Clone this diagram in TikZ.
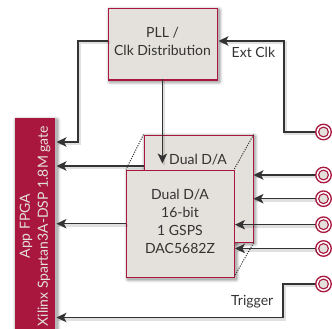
\documentclass[tikz,border=0pt]{standalone}
\usepackage{fontspec}
\setmainfont{Lato}
\usetikzlibrary{arrows.meta}
\definecolor{crim}{HTML}{A9173F}
\definecolor{boxfill}{HTML}{E4E0DB}
\definecolor{ink}{HTML}{333333}
\newcommand{\softshadow}[4]{%
  \foreach \g/\o in {3.6/0.05,2.7/0.07,1.8/0.09,0.9/0.11}{
    \fill[black,opacity=\o,rounded corners=\g pt] (#1+2-\g,#2+2-\g) rectangle (#3+2+\g,#4+2+\g);
  }}
\tikzset{
  blockbox/.style={draw=crim,line width=1.2pt,fill=boxfill,minimum width=#1,inner sep=0pt},
  fpgabox/.style={fill=crim,inner sep=0pt},
  sig/.style={ink,line width=1.05pt,-{Stealth[length=10pt,width=9.5pt,inset=2.6pt]},
     preaction={draw=black,opacity=0.12,line width=2.6pt,transform canvas={shift={(1.6pt,-1.8pt)}},arrows=-}},
  dots/.style={ink,line width=1pt,dash pattern=on 1.1pt off 1.3pt},
  conn/.style={circle,draw=crim,fill=white,line width=1.3pt,minimum size=15.5pt,inner sep=0pt,
     path picture={\draw[crim,fill=boxfill,line width=1.1pt] (path picture bounding box.center) circle (4.9pt);}},
  lab/.style={text=ink,inner sep=0pt,align=center,font=\fontsize{14}{18}\selectfont}
}
\begin{document}
\begin{tikzpicture}[x=1pt,y=-1pt]
\useasboundingbox (0,0) rectangle (332,329);
% shadows
\begin{scope}
\clip (0,0) rectangle (332,329);
\softshadow{14.5}{118}{55}{329}
\softshadow{108}{8}{217}{79.5}
\softshadow{143.5}{134.5}{252.5}{241.5}
\softshadow{126}{169.5}{234}{277}
\end{scope}
% fpga
\node[fpgabox,minimum width=40.5pt,minimum height=211pt,anchor=north west] (fpga) at (14.5,118) {};
\node[text=boxfill,rotate=90,align=center,font=\fontsize{14}{18}\selectfont,inner sep=0pt] (fpgat) at (35,226) {App FPGA\\Xilinx Spartan3A-DSP 1.8M gate};
% pll
\node[blockbox=109pt,minimum height=71.5pt,anchor=north west] (pll) at (108,8) {};
\node[lab] (pllt) at (162.5,41) {PLL /\\Clk Distribution};
% connectors behind
\coordinate (pllL) at (108,41);
\coordinate (fpgaA) at (56.5,142);
\coordinate (fpgaB) at (56.5,166);
\coordinate (fpgaC) at (56.5,223.7);
\coordinate (fpgaD) at (56.5,317.5);
\coordinate (pllR) at (218.5,41);
\coordinate (pllB) at (162.4,79.5);
\coordinate (dualT) at (162.4,163.5);
\coordinate (k1) at (78,41);
\coordinate (k2) at (78,142);
\coordinate (k3) at (284,132);
\coordinate (k4) at (284,41);
\coordinate (k5) at (283,284);
\coordinate (k6) at (283,317.5);
% back dual
\node[blockbox=109pt,minimum height=107pt,anchor=north west] (back) at (143.5,134.5) {};
\node[lab,anchor=west] (backt) at (169,160) {Dual D/A};
\draw[sig] (pllL) -- (k1) -- (k2) -- (fpgaA);
\draw[sig] (pllB) -- (dualT);
\coordinate (backL) at (143.5,166);
\draw[sig] (backL) -- (fpgaB);
\draw[dots] (back.north west) -- (126,169.5);
\draw[dots] (back.north east) -- (234,169.5);
\draw[dots] (back.south east) -- (234,277);
% front
\node[blockbox=108pt,minimum height=107.5pt,anchor=north west] (front) at (126,169.5) {};
\node[lab] (frontt) at (180,221) {Dual D/A\\16-bit\\1 GSPS\\DAC5682Z};
\coordinate (frontL) at (126,223.7);
\draw[sig] (frontL) -- (fpgaC);
% connectors
\node[conn] (c1) at (323.5,132) {};
\node[conn] (c2) at (323.5,175) {};
\node[conn] (c3) at (323.5,198.7) {};
\node[conn] (c4) at (323.5,224.7) {};
\node[conn] (c5) at (323.5,248.5) {};
\node[conn] (c6) at (323.5,284) {};
\coordinate (a2) at (253.5,175);
\coordinate (a3) at (253.5,198.7);
\coordinate (a4) at (235,224.7);
\coordinate (a5) at (235,248.5);
\draw[sig] (c1) -- (k3) -- (k4) -- (pllR);
\draw[sig] (c2) -- (a2);
\draw[sig] (c3) -- (a3);
\draw[sig] (c4) -- (a4);
\draw[sig] (c5) -- (a5);
\draw[sig] (c6) -- (k5) -- (k6) -- (fpgaD);
\node[lab,anchor=west] (ext) at (231.5,52) {Ext Clk};
\node[lab,anchor=west] (trig) at (231,302) {Trigger};
\end{tikzpicture}
\end{document}
